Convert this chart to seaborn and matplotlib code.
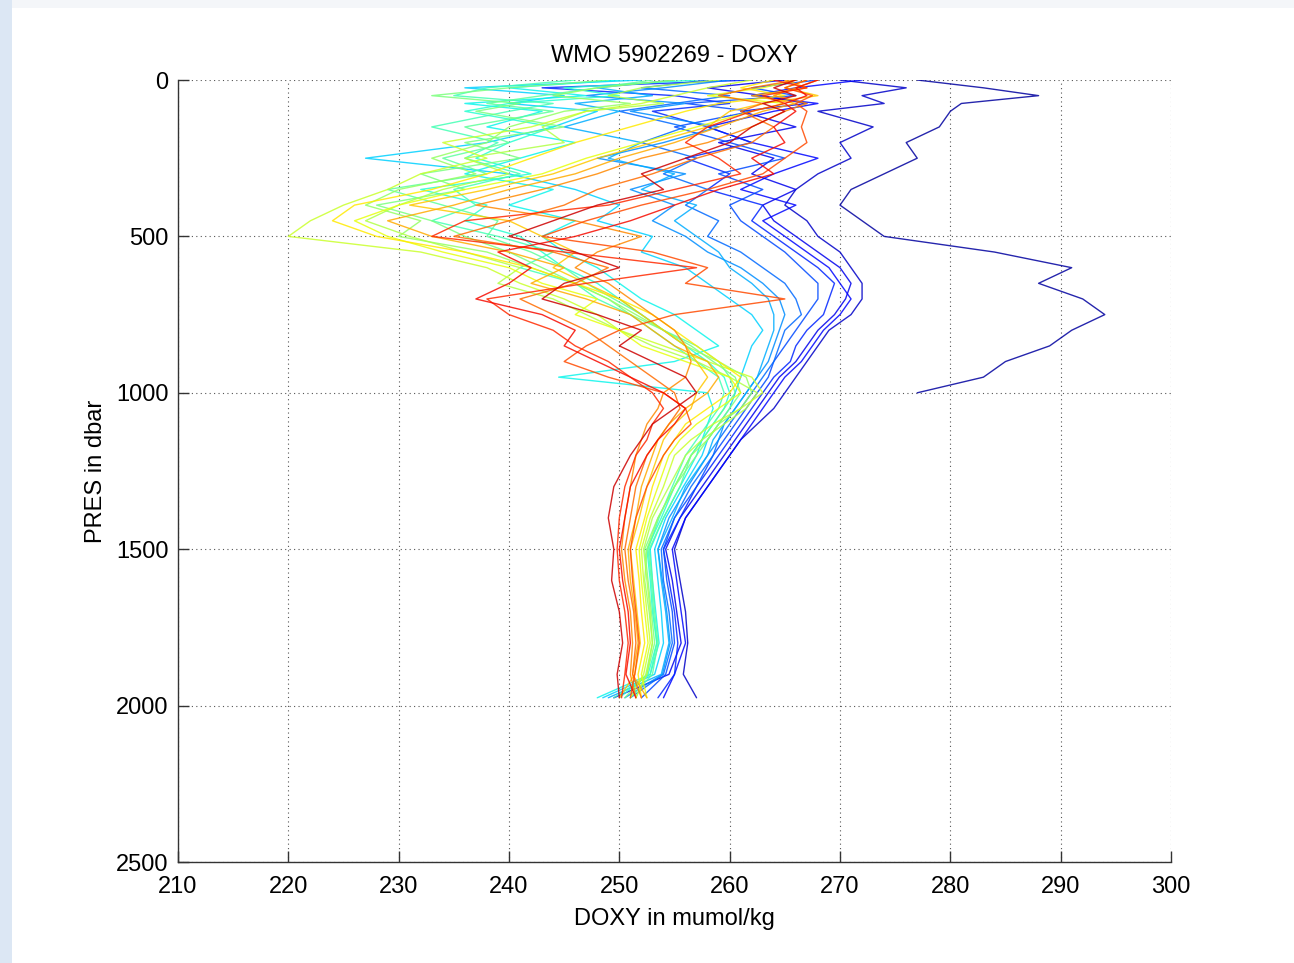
import numpy as np
import pandas as pd
import matplotlib
matplotlib.use("Agg")
import matplotlib.pyplot as plt
import seaborn as sns
from matplotlib.patches import Rectangle

# ---------------- data ----------------
pres_levels = [0, 25, 50, 75, 100, 150, 200, 250, 300, 350, 400, 450, 500, 550, 600,
               650, 700, 750, 800, 850, 900, 950, 1000, 1050, 1100, 1150, 1200, 1300,
               1400, 1500, 1600, 1700, 1800, 1900, 1975]

nan = np.nan
p00 = [277, 283, 288, 281, 280, 279, 276, 277, 274, 271, 270, 272, 274, 284, 291,
       288, 292, 294, 291, 289, 285, 283, 277] + [nan] * 12
p01 = [270, 276, 272, 274, 268, 273, 270, 271, 268, 266, 265, 267, 268, 270, 271,
       272, 272, 271, 269, 268, 267, 266, 265, 264, 262.5, 261, 260, 258,
       256, 255, 255.5, 256, 256.2, 255.8, 257]
p02 = [265, 258, 263, 267, 261, 266, 259, 264, 262, 266, 263, 264, 266, 268, 270,
       271, 270.5, 269.5, 268, 267, 266, 264.5, 263.5, 262.5, 261.5, 260.5, 259.5, 257.5,
       255.5, 254.2, 254.8, 255.2, 255.6, 254.5, 249.5]
p02b = [272, 266, 262, 268, 264, 258, 262, 268, 264, 261, 266, 263, 265, 267, 269,
        270, 271, 270, 268.5, 267.5, 266.5, 265, 264, 263, 262, 261, 260, 258,
        256, 254.8, 255.2, 255.6, 256, 255, 254]
p03 = [262, 243, 255, 260, 253, 258, 262, 256, 260, 258, 263, 262, 264, 266, 268,
       269.5, 269, 268.5, 267, 266, 265.5, 264, 263, 262, 261, 260, 259, 257,
       255.5, 254, 254.5, 255, 255.3, 255, 253.5]
p04 = [268, 262, 266, 256, 262, 255, 260, 265, 259, 263, 260, 261, 263, 265, 266.5,
       268, 268, 267, 266, 265, 264, 263.5, 262.5, 261.5, 260.5, 259.5, 258.5, 257,
       255, 254, 254.3, 254.8, 255, 254.2, 252]
p05 = [258, 252, 260, 255, 250, 256, 252, 257, 254, 258, 256, 259, 258, 261, 263,
       265, 266, 266.5, 265, 264.5, 264, 263, 262, 261, 260, 259, 258.5, 256.5,
       255, 253.8, 254, 254.5, 254.8, 254, 251]
p05b = [260, 254, 247, 256, 251, 259, 254, 248, 256, 251, 255, 253, 256, 258, 261,
        263, 264.5, 265, 264.5, 264, 263.5, 262.5, 261.5, 260.5, 259.5, 259, 258, 256.2,
        254.5, 253.5, 253.9, 254.3, 254.6, 253.9, 250.5]
p06 = [255, 248, 253, 246, 250, 245, 252, 249, 255, 252, 257, 255, 257, 259, 260,
       262, 263.5, 264, 264, 263.5, 263, 262.5, 261.5, 260.5, 259.5, 258.5, 258, 256,
       254.8, 253.5, 253.8, 254.2, 254.5, 253.8, 249]
p07 = [252, 236, 245, 240, 248, 244, 238, 227, 240, 246, 250, 248, 253, 252, 256,
       258, 260, 262, 263, 262, 261.5, 261, 260.5, 260, 259, 258, 257.5, 255.8,
       254.2, 253.2, 253.5, 253.8, 254, 253.2, 248.5]
p08 = [250, 240, 247, 236, 243, 238, 246, 241, 236, 244, 240, 246, 243, 245, 248,
       250, 252, 255, 257, 259, 255, 244.5, 258, 258.5, 258, 257.5, 257, 255.5,
       254, 252.8, 253, 253.3, 253.6, 252.8, 248]
p09 = [257, 245, 250, 240, 236, 244, 240, 237, 242, 232, 238, 236, 241, 243, 245,
       248, 250, 252, 254, 256, 258, 259.5, 260, 259.5, 258.5, 257.5, 256.5, 255,
       253.8, 252.5, 252.8, 253, 253.4, 252.6, 250]
p09b = [246, 238, 235, 244, 240, 233, 239, 236, 241, 235, 237, 233, 239, 244, 241,
        246, 248, 251, 253, 255, 257, 259, 259.5, 259, 258, 257, 256, 254.8,
        253.6, 252.6, 252.9, 253.1, 253.4, 252.8, 249.5]
p10 = [253, 248, 243, 238, 244, 236, 240, 234, 238, 229, 234, 239, 238, 242, 245,
       247, 249.5, 252, 254, 257, 259, 260, 260.5, 259.5, 258.5, 257.5, 256.5, 255.5,
       254, 252.7, 253, 253.2, 253.5, 253, 251]
p11 = [249, 240, 233, 241, 237, 245, 236, 241, 232, 236, 228, 233, 236, 240, 243,
       246, 249, 251, 254, 256.5, 258.5, 260.5, 261, 260, 259, 258, 257, 255,
       253.5, 252.3, 252.6, 252.9, 253.2, 252.5, 250.5]
p12 = [255, 248, 244, 251, 245, 240, 238, 233, 237, 230, 227, 232, 230, 238, 242,
       246, 249, 251.5, 254, 256, 259, 261.5, 262, 261, 259, 258, 256.5, 255,
       253.5, 252.5, 252.3, 252.7, 253, 252.4, 251.5]
p12b = [259, 252, 249, 254, 247, 243, 245, 236, 240, 234, 230, 227, 231, 236, 241,
        239, 244, 247, 250, 253, 257, 260, 262.5, 261.5, 259.5, 257.5, 256, 254.5,
        253, 252.2, 252.5, 252.8, 253, 252.5, 251.5]
p13 = [262, 258, 255, 252, 247, 242, 234, 238, 232, 229, 225, 222, 220, 232, 238,
       241, 245, 248, 250, 254, 258, 262, 263, 261, 258.5, 256.5, 255, 254,
       252.8, 252, 252.2, 252.5, 252.8, 252.2, 251]
p14 = [266, 263, 258, 265, 262, 257, 252, 247, 243, 236, 230, 226, 229, 234, 240,
       243, 248, 246, 250, 252, 256, 260, 261, 259, 257, 255.5, 254.5, 253.5,
       252.5, 251.8, 252, 252.3, 252.6, 252, 252.5]
p15 = [264, 261, 265, 259, 256, 251, 246, 242, 238, 233, 226, 224, 228, 236, 242,
       246, 250, 253, 255, 257, 259, 261, 260, 258, 256, 255, 254, 253,
       252.3, 251.5, 251.8, 252, 252.3, 251.7, 252]
p16 = [267, 265, 268, 263, 260, 258, 253, 248, 244, 238, 231, 240, 243, 246, 244,
       247, 250, 252, 254, 256, 257, 258, 257, 256.5, 255, 254, 253.5, 252.5,
       251.8, 251, 251.3, 251.6, 251.9, 251.4, 250]
p16b = [265, 267, 262, 266, 263, 259, 255, 250, 246, 240, 235, 229, 233, 240, 245,
        242, 247, 251, 253, 255, 258, 259, 258, 256, 254.5, 253.5, 253, 252,
        251.5, 250.8, 251, 251.4, 251.7, 251.2, 252.5]
p17 = [268, 266, 264, 267, 265, 262, 258, 252, 248, 243, 237, 246, 252, 248, 246,
       249, 251, 253, 255, 256, 256.5, 256, 254, 253.5, 252.5, 252, 251.5, 251,
       250.5, 250.2, 250.5, 251, 251.2, 251, 251.5]
p18 = [266, 262, 259, 263, 261, 264, 262, 257, 253, 248, 245, 240, 235, 244, 249,
       246, 241, 244, 247, 249, 251, 253, 255, 255.5, 254.5, 253.5, 252.5, 251.5,
       251, 250.5, 250.8, 251.3, 251.5, 251.2, 252]
p19 = [267, 265, 267.5, 266, 267, 266.5, 267, 265, 263, 258, 252, 247, 243, 253, 258,
       256, 265, 255, 250, 247, 245, 249, 254, 256, 256.5, 255, 254, 252.5,
       251.5, 251, 251.2, 251.5, 251.8, 251.4, 251]
p20 = [264, 267, 263, 265, 262, 258, 256, 259, 261, 255, 249, 236, 233, 245, 257,
       247, 238, 240, 244, 246, 249, 251, 253, 254, 253, 252.5, 251.5, 250.5,
       250, 249.8, 250, 250.5, 250.8, 250.5, 250.2]
p20b = [268, 266, 267, 265, 266, 264, 265, 262, 264, 259, 255, 251, 246, 239, 242,
        240, 237, 243, 246, 245, 248, 251, 254, 256, 255, 253.5, 252.5, 251,
        250.5, 250, 250.3, 250.8, 251, 250.6, 251.5]
p21 = [266, 264, 266, 263, 265, 262, 260, 256, 252, 254, 248, 244, 240, 246, 250,
       245, 243, 248, 252, 250, 253, 256, 257, 255, 253, 252, 251, 249.5,
       249, 249.5, 249.3, 250, 250.3, 249.8, 250]

profiles = [p00, p01, p02, p02b, p03, p04, p05, p05b, p06, p07, p08, p09, p09b, p10,
            p11, p12, p12b, p13, p14, p15, p16, p16b, p17, p18, p19, p20, p20b, p21]
cycle_numbers = list(range(1, len(profiles) + 1))

# ---------------- figure ----------------
sns.set_theme(style="white")
plt.rcParams['font.family'] = ['Liberation Sans', 'DejaVu Sans']
plt.rcParams['xtick.direction'] = 'in'
plt.rcParams['ytick.direction'] = 'in'

fig = plt.figure(figsize=(12.94, 9.63), dpi=100)
fig.patch.set_facecolor('#dce7f4')
fig.add_artist(Rectangle((12 / 1294, 0), 1, (963 - 8) / 963, transform=fig.transFigure,
                         facecolor='white', edgecolor='none', zorder=0))
fig.add_artist(Rectangle((12 / 1294, (963 - 8) / 963), 1, 8 / 963, transform=fig.transFigure,
                         facecolor='#f4f6f9', edgecolor='none', zorder=0))

ax = fig.add_axes([178 / 1294, 1 - 862 / 963, (1171 - 178) / 1294, (862 - 80) / 963])
ax.set_facecolor('white')

rows = []
for cyc, vals in zip(cycle_numbers, profiles):
    for p, v in zip(pres_levels, vals):
        rows.append({"cycle": cyc, "PRES": p, "DOXY": v})
df = pd.DataFrame(rows).dropna()

jet = matplotlib.colormaps["jet"]
palette = [jet(t) for t in np.linspace(0.03, 0.93, len(profiles))]
sns.lineplot(data=df, x="DOXY", y="PRES", hue="cycle", units="cycle", estimator=None,
             sort=False, palette=palette, linewidth=1.0, alpha=0.85, legend=False, ax=ax)

ax.set_xlim(210, 300)
ax.set_ylim(2500, 0)
ax.set_xticks(np.arange(210, 301, 10))
ax.set_yticks(np.arange(0, 2501, 500))
ax.grid(True, linestyle=(0, (1, 3)), color='#555555', linewidth=0.8)
for s in ['top', 'right']:
    ax.spines[s].set_visible(False)
for s in ['left', 'bottom']:
    ax.spines[s].set_color('#333333')
    ax.spines[s].set_linewidth(1.0)
ax.tick_params(axis='both', direction='in', length=8, width=1, color='#333333',
               labelsize=17, left=True, bottom=True, labelcolor='black')
ax.tick_params(axis='x', pad=10)
ax.tick_params(axis='y', pad=7)

ax.set_xlabel("DOXY in mumol/kg", fontsize=17, labelpad=7, color='black')
ax.set_ylabel("PRES in dbar", fontsize=17, labelpad=6, color='black')
ax.set_title("WMO 5902269 - DOXY", fontsize=17, pad=13, color='black')

fig.savefig("out.png", dpi=100, facecolor=fig.get_facecolor())
